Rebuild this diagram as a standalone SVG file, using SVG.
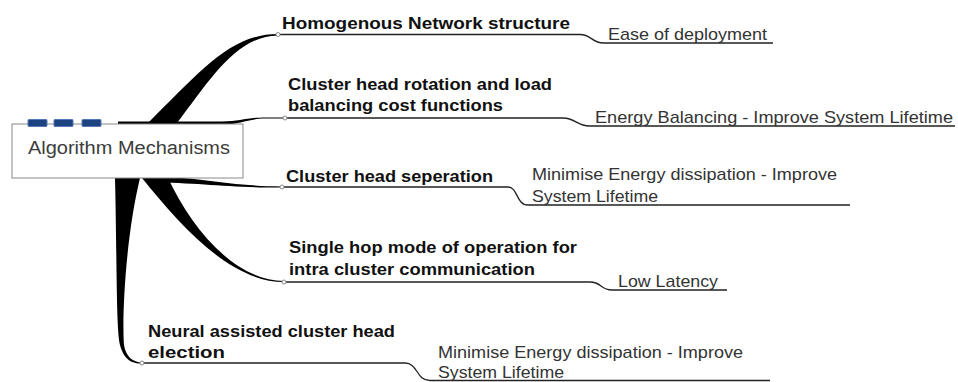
<svg xmlns="http://www.w3.org/2000/svg" width="958" height="382" viewBox="0 0 958 382">
<style>
.b{font-family:"Liberation Sans",Arial,sans-serif;font-weight:bold;font-size:17px;fill:#111}
.n{font-family:"Liberation Sans",Arial,sans-serif;font-size:17px;fill:#333}
.ul{fill:none;stroke:#222;stroke-width:1.3}
.w{fill:#000}
.dot{fill:#fff;stroke:#888;stroke-width:1}
.dash{fill:#1e4383;stroke:#5477b5;stroke-width:1}
</style>
<rect width="958" height="382" fill="#fff"/>
<g id="connectors">
<path class="w" d="M146,132 L148,123 C200,72 230,34 278,34 L278,35.5 C236,36 210,80 177,123 L179,132 Z"/>
<path class="w" d="M118,121.5 L222,121.5 C240,121.5 247,117.5 265,117.5 L285,117.5 L285,118.5 L265,118.6 C248,118.8 241,124.5 222,124.5 L118,124.5 Z"/>
<path class="w" d="M150,170 L150,176 C200,177 230,186.4 282,186.4 L282,187.6 C230,188 200,182.5 150,182.5 Z"/>
<path class="w" d="M142,170 L142,178 C180,225 230,282 284,282 L284,281 C232,280 190,225 168,178 L168,170 Z"/>
<path class="w" d="M115,170 L115,178 C117,260 116,330 120,345 C124,360 132,363.6 142,363.6 L142,362.4 C133,362.4 126,357 124,345 C122,320 125,240 140,178 L140,170 Z"/>
<path class="ul" d="M278,34.5 L580,34.5 C592,34.5 591,43 604,43 L773,43"/>
<path class="ul" d="M285,118 L563,118 C576,118 576,126 590,126 L955,126"/>
<path class="ul" d="M282,187 L508,187 C518,187 516,205 528,205 L850,205"/>
<path class="ul" d="M284,282 L590,282 C602,282 600,290 612,290 L727,290"/>
<path class="ul" d="M142,363 L405,363 C418,363 416,380.5 430,380.5 L770,380.5"/>
</g>
<g id="central">
<rect x="12" y="124" width="231" height="54" fill="#fff" stroke="#8a8a8a" stroke-width="1"/>
<rect class="dash" x="28" y="119.5" width="19" height="7" rx="1"/>
<rect class="dash" x="54" y="119.5" width="19" height="7" rx="1"/>
<rect class="dash" x="82" y="119.5" width="19" height="7" rx="1"/>
<text x="28" y="154" font-family="Liberation Sans, Arial, sans-serif" font-size="18" fill="#3c3c3c" textLength="202" lengthAdjust="spacingAndGlyphs">Algorithm Mechanisms</text>
</g>
<g id="node-homogenous">
<circle class="dot" cx="278" cy="34.5" r="2"/>
<text class="b" x="282" y="29" textLength="288" lengthAdjust="spacingAndGlyphs">Homogenous Network structure</text>
</g>
<g id="node-ease">
<text class="n" x="608" y="40" textLength="159" lengthAdjust="spacingAndGlyphs">Ease of deployment</text>
</g>
<g id="node-rotation">
<circle class="dot" cx="285" cy="118" r="2"/>
<text class="b" x="288" y="90" textLength="264" lengthAdjust="spacingAndGlyphs">Cluster head rotation and load</text>
<text class="b" x="288" y="111" textLength="215" lengthAdjust="spacingAndGlyphs">balancing cost functions</text>
</g>
<g id="node-energy-balancing">
<text class="n" x="595" y="123" textLength="358" lengthAdjust="spacingAndGlyphs">Energy Balancing - Improve System Lifetime</text>
</g>
<g id="node-separation">
<circle class="dot" cx="282" cy="187" r="2"/>
<text class="b" x="286" y="182" textLength="207" lengthAdjust="spacingAndGlyphs">Cluster head seperation</text>
</g>
<g id="node-minimise-1">
<text class="n" x="532" y="180" textLength="305" lengthAdjust="spacingAndGlyphs">Minimise Energy dissipation - Improve</text>
<text class="n" x="532" y="202" textLength="126" lengthAdjust="spacingAndGlyphs">System Lifetime</text>
</g>
<g id="node-single-hop">
<circle class="dot" cx="284" cy="282" r="2"/>
<text class="b" x="289" y="253" textLength="288" lengthAdjust="spacingAndGlyphs">Single hop mode of operation for</text>
<text class="b" x="289" y="275" textLength="246" lengthAdjust="spacingAndGlyphs">intra cluster communication</text>
</g>
<g id="node-low-latency">
<text class="n" x="618" y="287" textLength="100" lengthAdjust="spacingAndGlyphs">Low Latency</text>
</g>
<g id="node-neural">
<circle class="dot" cx="142" cy="363" r="2"/>
<text class="b" x="148" y="337" textLength="247" lengthAdjust="spacingAndGlyphs">Neural assisted cluster head</text>
<text class="b" x="148" y="358" textLength="77" lengthAdjust="spacingAndGlyphs">election</text>
</g>
<g id="node-minimise-2">
<text class="n" x="438" y="358" textLength="305" lengthAdjust="spacingAndGlyphs">Minimise Energy dissipation - Improve</text>
<text class="n" x="438" y="378" textLength="126" lengthAdjust="spacingAndGlyphs">System Lifetime</text>
</g>
</svg>
